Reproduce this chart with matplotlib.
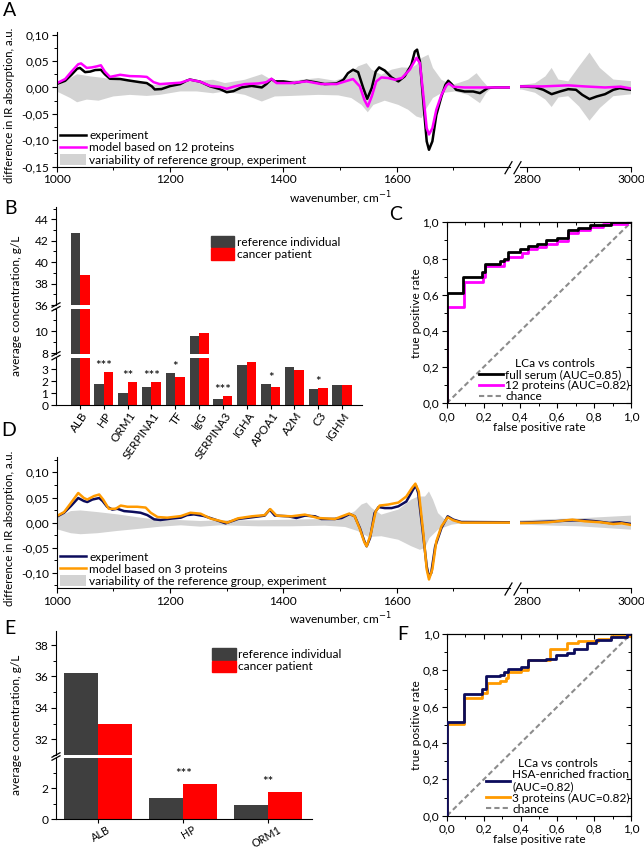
import numpy as np
import matplotlib
matplotlib.use('Agg')
import matplotlib.pyplot as plt
import matplotlib.transforms as mtrans
from matplotlib.ticker import FuncFormatter, MultipleLocator, FixedLocator
from matplotlib.lines import Line2D
from matplotlib.patches import Patch

plt.rcParams['font.family'] = ['Lato', 'DejaVu Sans']
plt.rcParams['font.size'] = 8.6
plt.rcParams['axes.linewidth'] = 0.8

# ---- panel A: difference spectrum, 12-protein model ----
a_exp_wn = [1000, 1015, 1026, 1036, 1041, 1050, 1059, 1068, 1078, 1085, 1094, 1112, 1126, 1147,
            1159, 1168, 1173, 1185, 1200, 1218, 1229, 1235, 1253, 1271, 1288, 1300, 1312, 1326,
            1344, 1362, 1370, 1379, 1385, 1400, 1420, 1441, 1456, 1473, 1494, 1506, 1514, 1523,
            1532, 1541, 1548, 1556, 1563, 1569, 1579, 1591, 1603, 1614, 1626, 1632, 1636, 1641,
            1647, 1653, 1657, 1663, 1670, 1679, 1686, 1691, 1697, 1705, 1720, 1735, 1747, 1761,
            1773, 1800,
            2790, 2815, 2831, 2847, 2863, 2879, 2894, 2906, 2920, 2934, 2950, 2966, 2978, 3000]
a_exp = [0.0064, 0.0127, 0.024, 0.0355, 0.037, 0.029, 0.030, 0.033, 0.0335, 0.025, 0.0165, 0.016,
         0.0134, 0.010, 0.0083, 0.002, -0.0037, -0.003, 0.0026, 0.0064, 0.0127, 0.015, 0.011, 0.002,
         -0.003, -0.009, -0.007, 0.0, 0.003, 0.0, 0.0064, 0.016, 0.0115, 0.0115, 0.0083, 0.0127,
         0.010, 0.0064, 0.0076, 0.0146, 0.027, 0.0336, 0.029, -0.001, -0.0215, -0.001, 0.030, 0.038,
         0.032, 0.019, 0.0115, 0.021, 0.043, 0.068, 0.0716, 0.049, -0.0265, -0.102, -0.118, -0.102,
         -0.052, -0.017, 0.005, 0.0127, 0.0064, -0.0044, -0.0076, -0.0076, -0.0107, -0.001, 0.0, 0.0,
         0.0019, 0.0006, -0.0044, -0.0127, -0.0076, -0.0032, -0.0044, -0.0139, -0.022, -0.017,
         -0.0127, -0.0044, -0.0013, -0.0044]
a_mod_wn = [1000, 1015, 1026, 1038, 1043, 1053, 1062, 1071, 1078, 1085, 1094, 1112, 1129, 1147,
            1159, 1171, 1182, 1200, 1218, 1235, 1253, 1271, 1288, 1300, 1314, 1332, 1356, 1370,
            1379, 1388, 1414, 1441, 1467, 1494, 1509, 1523, 1535, 1543, 1549, 1556, 1564, 1573,
            1585, 1597, 1609, 1623, 1635, 1641, 1647, 1653, 1657, 1663, 1670, 1679, 1688, 1692,
            1700, 1720, 1800,
            2790, 2830, 2879, 2910, 2950, 2980, 3000]
a_mod = [0.008, 0.016, 0.030, 0.044, 0.0455, 0.037, 0.038, 0.040, 0.042, 0.030, 0.020, 0.024,
         0.0215, 0.021, 0.020, 0.010, 0.0064, 0.0077, 0.009, 0.0146, 0.011, 0.003, 0.001, -0.0025,
         0.002, 0.0064, 0.0076, 0.010, 0.0165, 0.0083, 0.0083, 0.0115, 0.0064, 0.0064, 0.0115,
         0.016, 0.002, -0.0234, -0.036, -0.017, 0.0115, 0.019, 0.0178, 0.0146, 0.0178, 0.0336,
         0.056, 0.046, -0.014, -0.077, -0.089, -0.077, -0.042, -0.014, 0.004, 0.0076, 0.0013, 0.0, 0.0,
         0.002, 0.002, 0.004, 0.002, 0.0, 0.0015, -0.002]
a_band_up_wn = [1000, 1026, 1036, 1059, 1083, 1100, 1147, 1171, 1194, 1218, 1235, 1253, 1276, 1297,
                1332, 1362, 1379, 1414, 1462, 1491, 1514, 1532, 1547, 1556, 1573, 1591, 1609, 1626,
                1635, 1644, 1656, 1664, 1679, 1697, 1708, 1726, 1741, 1750, 1761, 1800,
                2790, 2815, 2835, 2847, 2860, 2879, 2900, 2920, 2940, 2966, 3000]
a_band_up = [0.002, 0.019, 0.025, 0.021, 0.018, 0.0146, 0.0115, 0.005, 0.0064, 0.0083, 0.0115,
             0.0127, 0.0146, 0.0083, 0.0146, 0.025, 0.0146, 0.0127, 0.0178, 0.0127, 0.021, 0.040,
             0.046, 0.0336, 0.024, 0.0336, 0.038, 0.037, 0.043, 0.0557, 0.062, 0.037, 0.0146, 0.005,
             0.008, 0.0146, 0.027, 0.0146, 0.0013, 0.0,
             0.005, 0.008, 0.021, 0.037, 0.015, 0.0115, 0.040, 0.066, 0.037, 0.015, 0.012]
a_band_lo_wn = [1000, 1024, 1036, 1053, 1074, 1100, 1129, 1159, 1182, 1218, 1247, 1276, 1297, 1332,
                1362, 1385, 1414, 1462, 1497, 1520, 1538, 1549, 1559, 1579, 1603, 1620, 1635, 1644,
                1653, 1664, 1679, 1703, 1726, 1747, 1758, 1767, 1800,
                2790, 2815, 2835, 2847, 2860, 2879, 2900, 2920, 2940, 2966, 3000]
a_band_lo = [-0.0075, -0.020, -0.028, -0.023, -0.025, -0.017, -0.014, -0.016, -0.014, -0.0075,
             -0.0075, -0.011, -0.0076, -0.014, -0.0266, -0.017, -0.016, -0.014, -0.015, -0.020,
             -0.033, -0.047, -0.033, -0.025, -0.033, -0.042, -0.055, -0.058, -0.039, -0.020,
             -0.0107, -0.0076, -0.014, -0.0297, -0.0107, -0.001, 0.0,
             -0.004, -0.010, -0.023, -0.037, -0.019, -0.0165, -0.036, -0.063, -0.039, -0.0165, -0.013]

# ---- panel D: difference spectrum, 3-protein model ----
d_exp_wn = [1000, 1013, 1025, 1038, 1048, 1054, 1063, 1075, 1081, 1089, 1098, 1107, 1119, 1133,
            1148, 1160, 1172, 1183, 1201, 1219, 1230, 1242, 1260, 1278, 1298, 1320, 1344, 1367,
            1376, 1385, 1409, 1423, 1438, 1456, 1467, 1491, 1503, 1517, 1526, 1535, 1543, 1547,
            1553, 1561, 1568, 1579, 1591, 1603, 1617, 1629, 1634, 1638, 1647, 1653, 1657, 1661,
            1668, 1679, 1690, 1700, 1714, 1800,
            2790, 2840, 2887, 2911, 2934, 2958, 2978, 3000]
d_exp = [0.0118, 0.0197, 0.033, 0.049, 0.043, 0.041, 0.046, 0.049, 0.043, 0.0316, 0.026, 0.0276,
         0.023, 0.0217, 0.0197, 0.015, 0.0066, 0.0053, 0.0079, 0.0099, 0.015, 0.0165, 0.0132,
         0.0066, -0.0013, 0.0073, 0.0106, 0.014, 0.026, 0.014, 0.0126, 0.0093, 0.014, 0.0126,
         0.0073, 0.0073, 0.0093, 0.0172, 0.0126, -0.0106, -0.037, -0.047, -0.0305, 0.0192, 0.031,
         0.029, 0.029, 0.0325, 0.042, 0.066, 0.0736, 0.059, -0.027, -0.087, -0.108, -0.100, -0.047,
         -0.0106, 0.0126, 0.006, 0.0013, 0.0007,
         0.0, 0.002, 0.0046, 0.0046, 0.0026, -0.0007, 0.0007, -0.0027]
d_mod_wn = [1000, 1013, 1025, 1038, 1048, 1054, 1066, 1075, 1082, 1092, 1104, 1113, 1125, 1142,
            1157, 1166, 1178, 1195, 1219, 1236, 1254, 1272, 1289, 1301, 1320, 1344, 1367, 1377,
            1388, 1414, 1438, 1461, 1491, 1516, 1526, 1535, 1543, 1547, 1554, 1563, 1570, 1585,
            1603, 1617, 1627, 1633, 1639, 1647, 1653, 1657, 1663, 1670, 1679, 1690, 1700, 1714, 1800,
            2790, 2840, 2887, 2911, 2942, 2966, 2982, 3000]
d_mod = [0.013, 0.021, 0.039, 0.059, 0.049, 0.046, 0.053, 0.056, 0.046, 0.0276, 0.0276, 0.034,
         0.0316, 0.0316, 0.030, 0.0197, 0.0112, 0.0099, 0.013, 0.0197, 0.0178, 0.0079, 0.0033, 0.0,
         0.0086, 0.0126, 0.015, 0.027, 0.014, 0.0126, 0.016, 0.0093, 0.0073, 0.018, 0.0126, -0.0126,
         -0.039, -0.047, -0.024, 0.0225, 0.034, 0.036, 0.040, 0.052, 0.069, 0.0776, 0.062, -0.0206,
         -0.093, -0.113, -0.093, -0.037, -0.0073, 0.0106, 0.0046, 0.0, 0.0,
         -0.0007, 0.0007, 0.006, 0.0027, 0.0007, -0.0027, -0.0013, -0.0046]
d_band_up_wn = [1000, 1025, 1042, 1072, 1107, 1148, 1183, 1219, 1254, 1289, 1356, 1414, 1473, 1509,
                1526, 1538, 1547, 1556, 1573, 1603, 1626, 1638, 1650, 1657, 1664, 1673, 1685, 1708,
                1800,
                2790, 2850, 2900, 2950, 3000]
d_band_up = [0.0099, 0.023, 0.0243, 0.021, 0.0165, 0.0099, 0.0053, 0.005, 0.0033, 0.0046, 0.0046,
             0.006, 0.0073, 0.0126, 0.0225, 0.036, 0.040, 0.029, 0.016, 0.026, 0.046, 0.052, 0.052,
             0.062, 0.046, 0.019, 0.006, 0.0027, 0.0,
             0.0046, 0.0073, 0.0086, 0.0113, 0.014]
d_band_lo_wn = [1000, 1025, 1042, 1072, 1107, 1148, 1183, 1219, 1254, 1289, 1356, 1414, 1473, 1509,
                1532, 1550, 1573, 1603, 1626, 1641, 1650, 1658, 1673, 1697, 1720, 1800,
                2790, 2850, 2900, 2950, 3000]
d_band_lo = [-0.013, -0.021, -0.023, -0.021, -0.0165, -0.012, -0.008, -0.0053, -0.008, -0.0053,
             -0.0073, -0.0073, -0.006, -0.0086, -0.017, -0.0285, -0.027, -0.034, -0.047, -0.054,
             -0.050, -0.0305, -0.014, -0.004, -0.0007, 0.0,
             -0.004, -0.006, -0.0073, -0.0106, -0.014]

# ---- panel B: 12 proteins ----
b_proteins = ['ALB', 'HP', 'ORM1', 'SERPINA1', 'TF', 'IgG', 'SERPINA3', 'IGHA', 'APOA1', 'A2M',
              'C3', 'IGHM']
b_reference = [42.7, 1.73, 1.03, 1.47, 2.64, 9.55, 0.53, 3.33, 1.75, 3.17, 1.33, 1.69]
b_cancer = [38.8, 2.78, 1.94, 1.89, 2.33, 9.82, 0.78, 3.56, 1.53, 2.92, 1.42, 1.69]
b_stars = ['', '***', '**', '***', '*', '', '***', '', '*', '', '*', '']

# ---- panel E: 3 proteins ----
e_proteins = ['ALB', 'HP', 'ORM1']
e_reference = [36.25, 1.39, 0.91]
e_cancer = [32.99, 2.29, 1.74]
e_stars = ['', '***', '**']

# ---- ROC curves (step vertices) ----
c_full_fpr = [0, 0, 0.09, 0.19, 0.21, 0.29, 0.31, 0.33, 0.40, 0.44, 0.49, 0.54, 0.60, 0.66, 0.71,
              0.78, 0.89, 1.0]
c_full_tpr = [0, 0.61, 0.70, 0.725, 0.77, 0.785, 0.80, 0.835, 0.85, 0.87, 0.88, 0.90, 0.915, 0.955,
              0.97, 0.985, 1.0, 1.0]
c_prot_fpr = [0, 0, 0.095, 0.195, 0.21, 0.31, 0.335, 0.41, 0.44, 0.49, 0.54, 0.60, 0.66, 0.71,
              0.78, 0.85, 0.98, 1.0]
c_prot_tpr = [0, 0.53, 0.67, 0.70, 0.76, 0.79, 0.81, 0.83, 0.855, 0.865, 0.88, 0.895, 0.94, 0.955,
              0.975, 0.99, 1.0, 1.0]
f_hsa_fpr = [0, 0, 0.09, 0.19, 0.21, 0.29, 0.31, 0.33, 0.40, 0.44, 0.54, 0.59, 0.65, 0.69, 0.76,
             0.81, 0.89, 0.98, 1.0]
f_hsa_tpr = [0, 0.517, 0.67, 0.70, 0.77, 0.775, 0.79, 0.81, 0.82, 0.855, 0.86, 0.885, 0.895, 0.915,
             0.95, 0.965, 0.985, 1.0, 1.0]
f_prot_fpr = [0, 0, 0.09, 0.19, 0.22, 0.29, 0.32, 0.33, 0.40, 0.44, 0.56, 0.65, 0.71, 0.82, 0.89,
              1.0]
f_prot_tpr = [0, 0.505, 0.65, 0.675, 0.73, 0.74, 0.76, 0.79, 0.80, 0.855, 0.915, 0.95, 0.96, 0.975,
              0.99, 1.0]
chance = [0, 1]

BAND = '#d3d3d3'
BAR_GREY = '#3f3f3f'
BAR_RED = '#ff0000'
MAGENTA = '#ff00ff'
NAVY = '#0c0c5c'
ORANGE = '#ff9a00'
CHANCE = '#8c8c8c'

fig = plt.figure(figsize=(6.44, 8.5), dpi=100)


def frac(x0, y0, x1, y1):
    # pixel box (origin top-left) -> figure rect
    return [x0 / 644, 1 - y1 / 850, (x1 - x0) / 644, (y1 - y0) / 850]


def comma(fmt):
    def f(v, pos):
        if abs(v) < 1e-9:
            v = 0.0
        return fmt.format(v).replace('.', ',')
    return FuncFormatter(f)


def fig_line(x0, y0, x1, y1):
    fig.add_artist(Line2D([x0 / 644, x1 / 644], [1 - y0 / 850, 1 - y1 / 850],
                          transform=fig.transFigure, color='black', lw=0.9))


def tick_style(ax, direction='out'):
    ax.tick_params(which='major', length=3.5, width=0.8, direction=direction, pad=2)
    ax.tick_params(which='minor', length=2, width=0.7, direction=direction)


def spectrum(top, bottom, ylim, exp_wn, exp, mod_wn, mod, up_wn, up, lo_wn, lo,
             exp_color, mod_color, labels):
    axl = fig.add_axes(frac(56.7, top, 510, bottom))
    axr = fig.add_axes(frac(520, top, 631, bottom))
    band_x = np.concatenate([up_wn, lo_wn[::-1]])
    band_y = np.concatenate([up, lo[::-1]])
    for ax in (axl, axr):
        ax.fill(band_x, band_y, color=BAND, lw=0)
        ax.plot(exp_wn, exp, color=exp_color, lw=1.8)
        ax.plot(mod_wn, mod, color=mod_color, lw=1.8)
        ax.set_ylim(*ylim)
        ax.spines[['top', 'right']].set_visible(False)
        ax.patch.set_alpha(0)
        tick_style(ax)
    axl.set_xlim(1000, 1800)
    axr.set_xlim(2786, 3000)
    axl.xaxis.set_major_locator(FixedLocator([1000, 1200, 1400, 1600]))
    axl.xaxis.set_minor_locator(FixedLocator([1100, 1300, 1500, 1700]))
    axr.xaxis.set_major_locator(FixedLocator([2800, 3000]))
    axr.xaxis.set_minor_locator(FixedLocator([2900]))
    axl.yaxis.set_major_locator(MultipleLocator(0.05))
    axl.yaxis.set_minor_locator(MultipleLocator(0.025))
    axl.yaxis.set_major_formatter(comma('{:.2f}'))
    axr.spines['left'].set_visible(False)
    axr.tick_params(axis='y', which='both', left=False, labelleft=False)
    handles = [Line2D([], [], color=exp_color, lw=1.8), Line2D([], [], color=mod_color, lw=1.8),
               Patch(color=BAND, lw=0)]
    axl.legend(handles, labels, loc='lower left', bbox_to_anchor=(0.005, 0.0),
               frameon=False, handlelength=2.2, handleheight=1.0, handletextpad=0.25,
               labelspacing=0.05, borderpad=0.1, borderaxespad=0)
    # axis break marks
    fig_line(505, bottom + 7, 512, bottom - 5)
    fig_line(514, bottom + 7, 521, bottom - 5)
    fig.text(340 / 644, 1 - (bottom + 31) / 850, 'wavenumber, cm$^{-1}$', ha='center', va='center')
    fig.text(10 / 644, 1 - ((top + bottom) / 2 + 6) / 850, 'difference in IR absorption, a.u.',
             rotation=90, ha='center', va='center', fontsize=8.2)


x_lims = {12: (-1.01, 11.84), 3: (-0.494, 2.51)}


def bars(sections, cats, ref, can, x_right, width, stars, rot, label_size, label_dx, star_off,
         legend_anchor):
    x = np.arange(len(cats))
    axes = []
    for top, bottom, lim, major, minor in sections:
        ax = fig.add_axes(frac(56, top, x_right, bottom))
        ax.bar(x - width / 2, ref, width, color=BAR_GREY)
        ax.bar(x + width / 2, can, width, color=BAR_RED)
        ax.set_xlim(x_lims[len(cats)])
        ax.set_ylim(*lim)
        ax.yaxis.set_major_locator(FixedLocator(major))
        if minor:
            ax.yaxis.set_minor_locator(MultipleLocator(minor))
        ax.spines[['top', 'right']].set_visible(False)
        ax.patch.set_alpha(0)
        tick_style(ax)
        axes.append(ax)
    for ax in axes[:-1]:
        ax.spines['bottom'].set_visible(False)
        ax.tick_params(axis='x', which='both', bottom=False, labelbottom=False)
    low = axes[-1]
    low.set_xticks(x)
    low.set_xticklabels(cats, rotation=rot, ha='right', rotation_mode='anchor',
                        fontsize=label_size)
    low.tick_params(axis='x', length=3, pad=0.5)
    shift = mtrans.ScaledTranslation(label_dx / 100, 0, fig.dpi_scale_trans)
    for lab in low.get_xticklabels():
        lab.set_transform(lab.get_transform() + shift)
    for xi, s, r, c in zip(x, stars, ref, can):
        if s:
            low.annotate(s, xy=(xi, max(r, c)), xytext=(0, star_off), textcoords='offset points',
                         ha='center', va='bottom', fontsize=9.5)
    # y-axis break marks
    for (t1, b1, *_), (t2, b2, *_) in zip(sections[:-1], sections[1:]):
        fig_line(52, b1 + 2.2, 60, b1 - 2.2)
        fig_line(52, t2 + 2.2, 60, t2 - 2.2)
    handles = [Patch(color=BAR_GREY), Patch(color=BAR_RED)]
    axes[0].legend(handles, ['reference individual', 'cancer patient'], loc='upper left',
                   bbox_to_anchor=legend_anchor, frameon=False, handlelength=2.0,
                   handleheight=1.1, handletextpad=0.2, labelspacing=0.05, borderpad=0,
                   borderaxespad=0)
    top, bottom = sections[0][0], sections[-1][1]
    fig.text(17 / 644, 1 - (top + bottom) / 2 / 850, 'average concentration, g/L', rotation=90,
             ha='center', va='center')


def roc(box, fpr1, tpr1, fpr2, tpr2, c1, c2, labels):
    ax = fig.add_axes(frac(*box))
    ax.plot(chance, chance, color=CHANCE, lw=1.5, ls=(0, (2.5, 1.5)), zorder=1)
    ax.plot(fpr1, tpr1, color=c1, lw=2.0, drawstyle='steps-post', zorder=3)
    ax.plot(fpr2, tpr2, color=c2, lw=2.0, drawstyle='steps-post', zorder=2)
    ax.set_xlim(0, 1)
    ax.set_ylim(0, 1)
    for axis in (ax.xaxis, ax.yaxis):
        axis.set_major_locator(MultipleLocator(0.2))
        axis.set_minor_locator(MultipleLocator(0.1))
        axis.set_major_formatter(comma('{:.1f}'))
    tick_style(ax)
    sx = ax.secondary_xaxis('top')
    sy = ax.secondary_yaxis('right')
    for s, axis in ((sx, sx.xaxis), (sy, sy.yaxis)):
        axis.set_major_locator(MultipleLocator(0.2))
        axis.set_minor_locator(MultipleLocator(0.1))
        tick_style(s, 'in')
    sx.tick_params(labeltop=False)
    sy.tick_params(labelright=False)
    handles = [Line2D([], [], color=c1, lw=2.0), Line2D([], [], color=c2, lw=2.0),
               Line2D([], [], color=CHANCE, lw=1.5, ls=(0, (2.5, 1.5)))]
    ax.legend(handles, labels, title='LCa vs controls', title_fontsize=8.6, loc='lower right',
              bbox_to_anchor=(1.0, 0.0), frameon=False, handlelength=2.0, handletextpad=0.2,
              labelspacing=0.0, borderpad=0.1, borderaxespad=0)
    x0, y0, x1, y1 = box
    fig.text((x0 + x1) / 2 / 644, 1 - (y1 + 24) / 850, 'false positive rate', ha='center',
             va='center')
    fig.text(417 / 644, 1 - (y0 + y1) / 2 / 850, 'true positive rate', rotation=90, ha='center',
             va='center')


spectrum(32, 166.7, (-0.15, 0.105), a_exp_wn, a_exp, a_mod_wn, a_mod, a_band_up_wn,
         a_band_up, a_band_lo_wn, a_band_lo, 'black', MAGENTA,
         ['experiment', 'model based on 12 proteins', 'variability of reference group, experiment'])
spectrum(457.3, 588, (-0.13, 0.13), d_exp_wn, d_exp, d_mod_wn, d_mod, d_band_up_wn,
         d_band_up, d_band_lo_wn, d_band_lo, NAVY, ORANGE,
         ['experiment', 'model based on 3 proteins',
          'variability of the reference group, experiment'])

bars([(207.5, 305, (36, 45.1), [36, 38, 40, 42, 44], 1),
      (308.7, 353.9, (7.95, 12), [8, 10], 1),
      (357.6, 405, (0, 3.95), [0, 1, 2, 3], None)],
     b_proteins, b_reference, b_cancer, 362, 0.4, b_stars, 55, 8.4, 1, 0.0, (0.505, 0.71))
bars([(630.9, 755, (31, 38.9), [32, 34, 36, 38], 1),
      (758, 819, (0, 3.97), [0, 2], 1)],
     e_proteins, e_reference, e_cancer, 311.7, 0.4, e_stars, 30, 7.8, 9, 3.0, (0.61, 0.86))

roc((446.7, 222.3, 631, 403.3), c_full_fpr, c_full_tpr, c_prot_fpr, c_prot_tpr, 'black', MAGENTA,
    ['full serum (AUC=0.85)', '12 proteins (AUC=0.82)', 'chance'])
roc((447, 634, 631, 815.7), f_hsa_fpr, f_hsa_tpr, f_prot_fpr, f_prot_tpr, NAVY, ORANGE,
    ['HSA-enriched fraction\n(AUC=0.82)', '3 proteins (AUC=0.82)', 'chance'])

for letter, px, py in [('A', 10, 11), ('B', 10, 208), ('C', 396, 214), ('D', 9, 430),
                       ('E', 10, 628), ('F', 403, 635)]:
    fig.text(px / 644, 1 - py / 850, letter, fontsize=14, ha='center', va='center')

fig.savefig('out.png', dpi=100)
